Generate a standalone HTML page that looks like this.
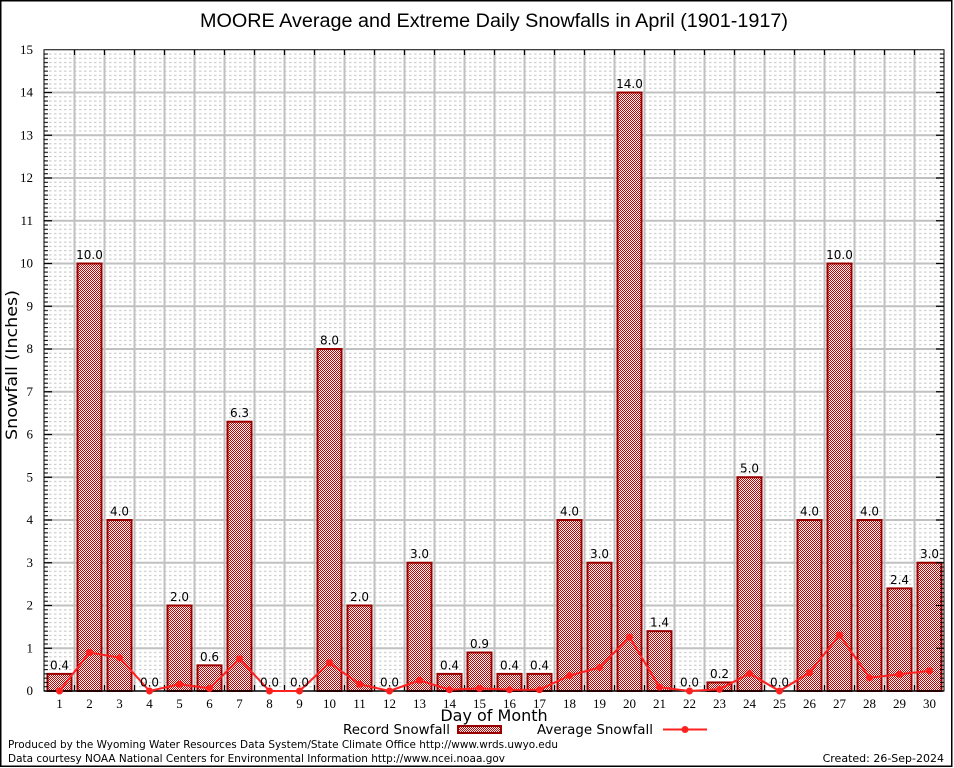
<!DOCTYPE html>
<html><head><meta charset="utf-8"><style>
html,body{margin:0;padding:0;background:#fff;}
svg{display:block;}
.t{font-family:"Liberation Serif",serif;font-size:13px;fill:#000;}
.s{font-family:"DejaVu Sans","Liberation Sans",sans-serif;fill:#000;}
</style></head><body>
<svg width="954" height="768" viewBox="0 0 954 768" xmlns="http://www.w3.org/2000/svg">
<defs>
<pattern id="chk" patternUnits="userSpaceOnUse" width="2" height="2">
<rect width="2" height="2" fill="#ffffff"/>
<rect x="0" y="0" width="1" height="1" fill="#c80000"/>
<rect x="1" y="1" width="1" height="1" fill="#c80000"/>
</pattern>
<pattern id="minor" patternUnits="userSpaceOnUse" x="44" y="49.75" width="5" height="42.75">
<g stroke="#c4c4c4" stroke-width="1">
<line x1="0" x2="2.5" y1="4.275" y2="4.275"/><line x1="0" x2="2.5" y1="8.55" y2="8.55"/>
<line x1="0" x2="2.5" y1="12.825" y2="12.825"/><line x1="0" x2="2.5" y1="17.1" y2="17.1"/>
<line x1="0" x2="2.5" y1="21.375" y2="21.375"/><line x1="0" x2="2.5" y1="25.65" y2="25.65"/>
<line x1="0" x2="2.5" y1="29.925" y2="29.925"/><line x1="0" x2="2.5" y1="34.2" y2="34.2"/>
<line x1="0" x2="2.5" y1="38.475" y2="38.475"/>
</g>
</pattern>
<pattern id="mtick" patternUnits="userSpaceOnUse" x="44" y="49.75" width="4" height="42.75">
<g stroke="#000" stroke-width="1">
<line x1="0" x2="4" y1="4.275" y2="4.275"/><line x1="0" x2="4" y1="8.55" y2="8.55"/>
<line x1="0" x2="4" y1="12.825" y2="12.825"/><line x1="0" x2="4" y1="17.1" y2="17.1"/>
<line x1="0" x2="4" y1="21.375" y2="21.375"/><line x1="0" x2="4" y1="25.65" y2="25.65"/>
<line x1="0" x2="4" y1="29.925" y2="29.925"/><line x1="0" x2="4" y1="34.2" y2="34.2"/>
<line x1="0" x2="4" y1="38.475" y2="38.475"/>
</g>
</pattern>
</defs>
<rect x="0" y="0" width="954" height="768" fill="#fff"/>
<rect x="0.75" y="0.75" width="951" height="765.5" fill="none" stroke="#000" stroke-width="1.5"/>

<text x="494" y="27" text-anchor="middle" font-family="Liberation Sans, sans-serif" font-size="19" textLength="588" lengthAdjust="spacingAndGlyphs">MOORE Average and Extreme Daily Snowfalls in April (1901-1917)</text>

<rect x="44" y="49.75" width="900" height="641.25" fill="url(#minor)"/>
<g stroke="#c0c0c0" stroke-width="2">
<line x1="44" x2="944" y1="648.25" y2="648.25"/><line x1="44" x2="944" y1="605.5" y2="605.5"/>
<line x1="44" x2="944" y1="562.75" y2="562.75"/><line x1="44" x2="944" y1="520" y2="520"/>
<line x1="44" x2="944" y1="477.25" y2="477.25"/><line x1="44" x2="944" y1="434.5" y2="434.5"/>
<line x1="44" x2="944" y1="391.75" y2="391.75"/><line x1="44" x2="944" y1="349" y2="349"/>
<line x1="44" x2="944" y1="306.25" y2="306.25"/><line x1="44" x2="944" y1="263.5" y2="263.5"/>
<line x1="44" x2="944" y1="220.75" y2="220.75"/><line x1="44" x2="944" y1="178" y2="178"/>
<line x1="44" x2="944" y1="135.25" y2="135.25"/><line x1="44" x2="944" y1="92.5" y2="92.5"/>
<line x1="74.5" x2="74.5" y1="50" y2="691"/><line x1="104.5" x2="104.5" y1="50" y2="691"/>
<line x1="134.5" x2="134.5" y1="50" y2="691"/><line x1="164.5" x2="164.5" y1="50" y2="691"/>
<line x1="194.5" x2="194.5" y1="50" y2="691"/><line x1="224.5" x2="224.5" y1="50" y2="691"/>
<line x1="254.5" x2="254.5" y1="50" y2="691"/><line x1="284.5" x2="284.5" y1="50" y2="691"/>
<line x1="314.5" x2="314.5" y1="50" y2="691"/><line x1="344.5" x2="344.5" y1="50" y2="691"/>
<line x1="374.5" x2="374.5" y1="50" y2="691"/><line x1="404.5" x2="404.5" y1="50" y2="691"/>
<line x1="434.5" x2="434.5" y1="50" y2="691"/><line x1="464.5" x2="464.5" y1="50" y2="691"/>
<line x1="494.5" x2="494.5" y1="50" y2="691"/><line x1="524.5" x2="524.5" y1="50" y2="691"/>
<line x1="554.5" x2="554.5" y1="50" y2="691"/><line x1="584.5" x2="584.5" y1="50" y2="691"/>
<line x1="614.5" x2="614.5" y1="50" y2="691"/><line x1="644.5" x2="644.5" y1="50" y2="691"/>
<line x1="674.5" x2="674.5" y1="50" y2="691"/><line x1="704.5" x2="704.5" y1="50" y2="691"/>
<line x1="734.5" x2="734.5" y1="50" y2="691"/><line x1="764.5" x2="764.5" y1="50" y2="691"/>
<line x1="794.5" x2="794.5" y1="50" y2="691"/><line x1="824.5" x2="824.5" y1="50" y2="691"/>
<line x1="854.5" x2="854.5" y1="50" y2="691"/><line x1="884.5" x2="884.5" y1="50" y2="691"/>
<line x1="914.5" x2="914.5" y1="50" y2="691"/>
</g>

<g fill="url(#chk)" stroke="#990000" stroke-width="2">
<rect x="47.5" y="673.9" width="24" height="17.1"/>
<rect x="77.5" y="263.5" width="24" height="427.5"/>
<rect x="107.5" y="520" width="24" height="171"/>
<rect x="167.5" y="605.5" width="24" height="85.5"/>
<rect x="197.5" y="665.35" width="24" height="25.65"/>
<rect x="227.5" y="421.7" width="24" height="269.3"/>
<rect x="317.5" y="349" width="24" height="342"/>
<rect x="347.5" y="605.5" width="24" height="85.5"/>
<rect x="407.5" y="562.75" width="24" height="128.25"/>
<rect x="437.5" y="673.9" width="24" height="17.1"/>
<rect x="467.5" y="652.5" width="24" height="38.5"/>
<rect x="497.5" y="673.9" width="24" height="17.1"/>
<rect x="527.5" y="673.9" width="24" height="17.1"/>
<rect x="557.5" y="520" width="24" height="171"/>
<rect x="587.5" y="562.75" width="24" height="128.25"/>
<rect x="617.5" y="92.5" width="24" height="598.5"/>
<rect x="647.5" y="631.15" width="24" height="59.85"/>
<rect x="707.5" y="682.45" width="24" height="8.55"/>
<rect x="737.5" y="477.25" width="24" height="213.75"/>
<rect x="797.5" y="520" width="24" height="171"/>
<rect x="827.5" y="263.5" width="24" height="427.5"/>
<rect x="857.5" y="520" width="24" height="171"/>
<rect x="887.5" y="588.4" width="24" height="102.6"/>
<rect x="917.5" y="562.75" width="24" height="128.25"/>
</g>

<rect x="44" y="49.75" width="900" height="641.25" fill="none" stroke="#000" stroke-width="1"/>
<rect x="44" y="49.75" width="4" height="641.25" fill="url(#mtick)"/>
<rect x="940" y="49.75" width="4" height="641.25" fill="url(#mtick)"/>
<g stroke="#000" stroke-width="1.2">
<path d="M44 648.25h8M44 605.5h8M44 562.75h8M44 520h8M44 477.25h8M44 434.5h8M44 391.75h8M44 349h8M44 306.25h8M44 263.5h8M44 220.75h8M44 178h8M44 135.25h8M44 92.5h8"/>
<path d="M944 648.25h-8M944 605.5h-8M944 562.75h-8M944 520h-8M944 477.25h-8M944 434.5h-8M944 391.75h-8M944 349h-8M944 306.25h-8M944 263.5h-8M944 220.75h-8M944 178h-8M944 135.25h-8M944 92.5h-8"/>
<path d="M74.5 50v5M104.5 50v5M134.5 50v5M164.5 50v5M194.5 50v5M224.5 50v5M254.5 50v5M284.5 50v5M314.5 50v5M344.5 50v5M374.5 50v5M404.5 50v5M434.5 50v5M464.5 50v5M494.5 50v5M524.5 50v5M554.5 50v5M584.5 50v5M614.5 50v5M644.5 50v5M674.5 50v5M704.5 50v5M734.5 50v5M764.5 50v5M794.5 50v5M824.5 50v5M854.5 50v5M884.5 50v5M914.5 50v5"/>
<path d="M74.5 691v-6M104.5 691v-6M134.5 691v-6M164.5 691v-6M194.5 691v-6M224.5 691v-6M254.5 691v-6M284.5 691v-6M314.5 691v-6M344.5 691v-6M374.5 691v-6M404.5 691v-6M434.5 691v-6M464.5 691v-6M494.5 691v-6M524.5 691v-6M554.5 691v-6M584.5 691v-6M614.5 691v-6M644.5 691v-6M674.5 691v-6M704.5 691v-6M734.5 691v-6M764.5 691v-6M794.5 691v-6M824.5 691v-6M854.5 691v-6M884.5 691v-6M914.5 691v-6"/>
</g>
<line x1="44" x2="944" y1="691" y2="691" stroke="#000" stroke-width="1.5"/>

<polyline fill="none" stroke="#ff2020" stroke-width="2" stroke-linejoin="round" points="59.5,691 89.5,652.5 119.5,657.7 149.5,691 179.5,684.2 209.5,688.4 239.5,658.9 269.5,691 299.5,691 329.5,662.8 359.5,684.2 389.5,691 419.5,680.3 449.5,689.7 479.5,688.4 509.5,689.7 539.5,689.7 569.5,675.6 599.5,667.5 629.5,637.1 659.5,687.2 689.5,691 719.5,689.3 749.5,673.5 779.5,691 809.5,672.6 839.5,635 869.5,677.7 899.5,674.3 929.5,670.9"/>
<g fill="#ff2020">
<circle cx="59.5" cy="691" r="3.5"/><circle cx="89.5" cy="652.5" r="3.5"/><circle cx="119.5" cy="657.7" r="3.5"/>
<circle cx="149.5" cy="691" r="3.5"/><circle cx="179.5" cy="684.2" r="3.5"/><circle cx="209.5" cy="688.4" r="3.5"/>
<circle cx="239.5" cy="658.9" r="3.5"/><circle cx="269.5" cy="691" r="3.5"/><circle cx="299.5" cy="691" r="3.5"/>
<circle cx="329.5" cy="662.8" r="3.5"/><circle cx="359.5" cy="684.2" r="3.5"/><circle cx="389.5" cy="691" r="3.5"/>
<circle cx="419.5" cy="680.3" r="3.5"/><circle cx="449.5" cy="689.7" r="3.5"/><circle cx="479.5" cy="688.4" r="3.5"/>
<circle cx="509.5" cy="689.7" r="3.5"/><circle cx="539.5" cy="689.7" r="3.5"/><circle cx="569.5" cy="675.6" r="3.5"/>
<circle cx="599.5" cy="667.5" r="3.5"/><circle cx="629.5" cy="637.1" r="3.5"/><circle cx="659.5" cy="687.2" r="3.5"/>
<circle cx="689.5" cy="691" r="3.5"/><circle cx="719.5" cy="689.3" r="3.5"/><circle cx="749.5" cy="673.5" r="3.5"/>
<circle cx="779.5" cy="691" r="3.5"/><circle cx="809.5" cy="672.6" r="3.5"/><circle cx="839.5" cy="635" r="3.5"/>
<circle cx="869.5" cy="677.7" r="3.5"/><circle cx="899.5" cy="674.3" r="3.5"/><circle cx="929.5" cy="670.9" r="3.5"/>
</g>

<g class="s" font-size="12" text-anchor="middle">
<text x="59.5" y="669.4">0.4</text><text x="89.5" y="259">10.0</text><text x="119.5" y="515.5">4.0</text>
<text x="149.5" y="686.5">0.0</text><text x="179.5" y="601">2.0</text><text x="209.5" y="660.8">0.6</text>
<text x="239.5" y="417.2">6.3</text><text x="269.5" y="686.5">0.0</text><text x="299.5" y="686.5">0.0</text>
<text x="329.5" y="344.5">8.0</text><text x="359.5" y="601">2.0</text><text x="389.5" y="686.5">0.0</text>
<text x="419.5" y="558.2">3.0</text><text x="449.5" y="669.4">0.4</text><text x="479.5" y="648">0.9</text>
<text x="509.5" y="669.4">0.4</text><text x="539.5" y="669.4">0.4</text><text x="569.5" y="515.5">4.0</text>
<text x="599.5" y="558.2">3.0</text><text x="629.5" y="88">14.0</text><text x="659.5" y="626.6">1.4</text>
<text x="689.5" y="686.5">0.0</text><text x="719.5" y="677.9">0.2</text><text x="749.5" y="472.7">5.0</text>
<text x="779.5" y="686.5">0.0</text><text x="809.5" y="515.5">4.0</text><text x="839.5" y="259">10.0</text>
<text x="869.5" y="515.5">4.0</text><text x="899.5" y="583.9">2.4</text><text x="929.5" y="558.2">3.0</text>
</g>

<g class="t" text-anchor="end">
<text x="33" y="695">0</text><text x="33" y="652.25">1</text><text x="33" y="609.5">2</text>
<text x="33" y="566.75">3</text><text x="33" y="524">4</text><text x="33" y="481.25">5</text>
<text x="33" y="438.5">6</text><text x="33" y="395.75">7</text><text x="33" y="353">8</text>
<text x="33" y="310.25">9</text><text x="33" y="267.5">10</text><text x="33" y="224.75">11</text>
<text x="33" y="182">12</text><text x="33" y="139.25">13</text><text x="33" y="96.5">14</text>
<text x="33" y="54">15</text>
</g>
<g class="t" text-anchor="middle">
<text x="59.5" y="708">1</text><text x="89.5" y="708">2</text><text x="119.5" y="708">3</text>
<text x="149.5" y="708">4</text><text x="179.5" y="708">5</text><text x="209.5" y="708">6</text>
<text x="239.5" y="708">7</text><text x="269.5" y="708">8</text><text x="299.5" y="708">9</text>
<text x="329.5" y="708">10</text><text x="359.5" y="708">11</text><text x="389.5" y="708">12</text>
<text x="419.5" y="708">13</text><text x="449.5" y="708">14</text><text x="479.5" y="708">15</text>
<text x="509.5" y="708">16</text><text x="539.5" y="708">17</text><text x="569.5" y="708">18</text>
<text x="599.5" y="708">19</text><text x="629.5" y="708">20</text><text x="659.5" y="708">21</text>
<text x="689.5" y="708">22</text><text x="719.5" y="708">23</text><text x="749.5" y="708">24</text>
<text x="779.5" y="708">25</text><text x="809.5" y="708">26</text><text x="839.5" y="708">27</text>
<text x="869.5" y="708">28</text><text x="899.5" y="708">29</text><text x="929.5" y="708">30</text>
</g>

<text class="s" x="494" y="721" text-anchor="middle" font-size="16">Day of Month</text>
<text class="s" transform="translate(17,365) rotate(-90)" text-anchor="middle" font-size="16" textLength="150" lengthAdjust="spacingAndGlyphs">Snowfall (Inches)</text>

<text class="s" x="343" y="734" font-size="13" textLength="107" lengthAdjust="spacingAndGlyphs">Record Snowfall</text>
<rect x="458" y="726" width="43" height="7" fill="url(#chk)" stroke="#990000" stroke-width="2"/>
<text class="s" x="537" y="734" font-size="13" textLength="116" lengthAdjust="spacingAndGlyphs">Average Snowfall</text>
<line x1="663" x2="707" y1="729.5" y2="729.5" stroke="#ff2020" stroke-width="2"/>
<circle cx="685" cy="729.5" r="3.5" fill="#ff2020"/>

<text class="s" x="8" y="748" font-size="11" textLength="550" lengthAdjust="spacingAndGlyphs">Produced by the Wyoming Water Resources Data System/State Climate Office http://www.wrds.uwyo.edu</text>
<text class="s" x="8" y="762" font-size="11" textLength="497" lengthAdjust="spacingAndGlyphs">Data courtesy NOAA National Centers for Environmental Information http://www.ncei.noaa.gov</text>
<text class="s" x="944" y="762" font-size="11" text-anchor="end">Created: 26-Sep-2024</text>
</svg>
</body></html>
